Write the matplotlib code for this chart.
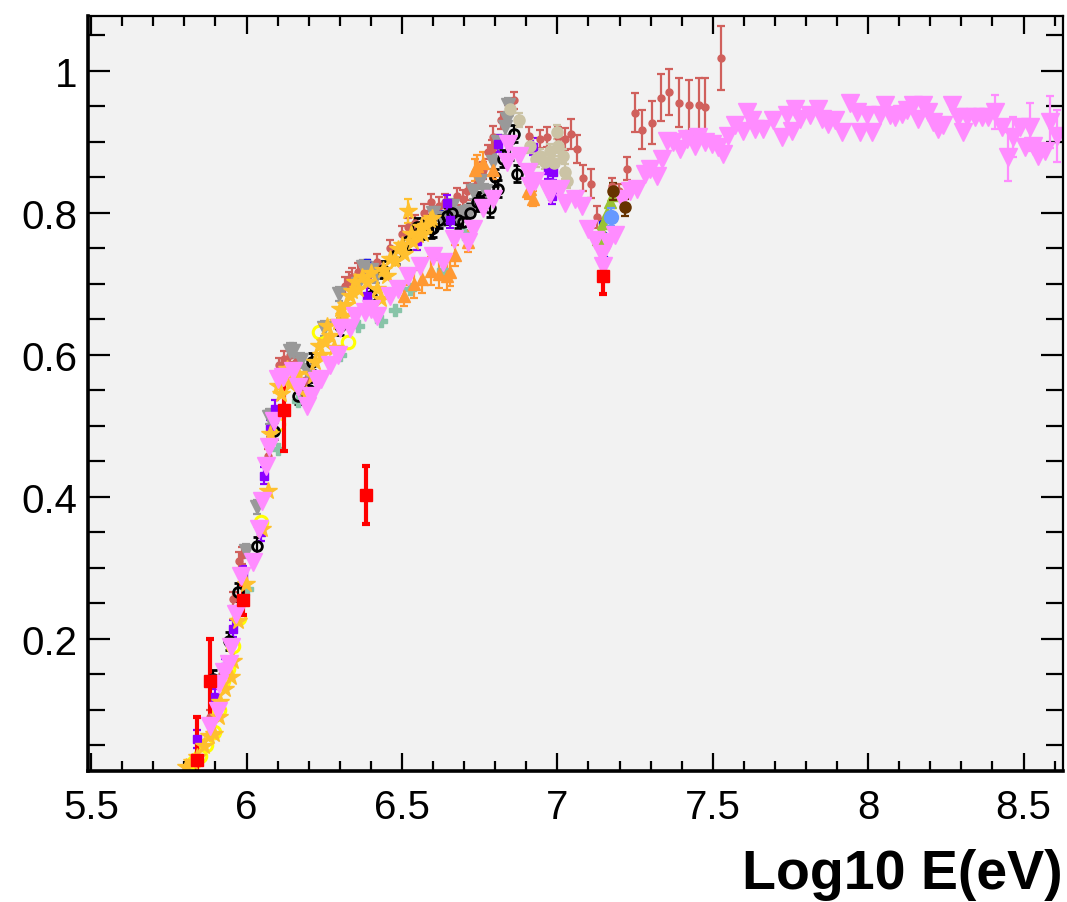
import numpy as np
import matplotlib
matplotlib.use('Agg')
import matplotlib.pyplot as plt
from matplotlib.ticker import MultipleLocator

plt.rcParams['font.family'] = ['Liberation Sans', 'DejaVu Sans']

# ------------------------------------------------------------------ datos
# violet down triangles (largest set, 5.8 - 8.6)
vio_x = [5.884, 5.907, 5.910, 5.926, 5.942, 5.949, 5.965, 5.981, 6.020, 6.039,
         6.051, 6.061, 6.071, 6.087, 6.100, 6.116, 6.151, 6.167, 6.196, 6.206,
         6.228, 6.238, 6.270, 6.293, 6.302, 6.334, 6.350, 6.380, 6.400, 6.421,
         6.463, 6.486, 6.518, 6.559, 6.601, 6.633, 6.666, 6.711, 6.730, 6.762,
         6.794, 6.839, 6.842, 6.875, 6.907, 6.929, 6.913, 6.968, 6.977, 7.010,
         7.026, 7.058, 7.080, 7.100, 7.122, 7.145, 7.148, 7.164, 7.186, 7.209,
         7.235, 7.257, 7.283, 7.299, 7.322, 7.338, 7.354, 7.373, 7.395, 7.418,
         7.444, 7.453, 7.476, 7.498, 7.518, 7.534, 7.550, 7.572, 7.598, 7.611,
         7.627, 7.637, 7.662, 7.695, 7.723, 7.740, 7.756, 7.765, 7.781, 7.814,
         7.839, 7.852, 7.871, 7.894, 7.916, 7.942, 7.965, 7.974, 7.997, 8.013,
         8.039, 8.055, 8.071, 8.087, 8.109, 8.125, 8.145, 8.161, 8.177, 8.193,
         8.209, 8.225, 8.241, 8.270, 8.289, 8.305, 8.318, 8.344, 8.367, 8.386,
         8.408, 8.431, 8.450, 8.466, 8.489, 8.505, 8.521, 8.531, 8.547, 8.569,
         8.585, 8.608]
vio_y = [0.077, 0.099, 0.137, 0.154, 0.165, 0.189, 0.235, 0.289, 0.308, 0.355,
         0.394, 0.444, 0.470, 0.507, 0.566, 0.569, 0.577, 0.555, 0.528, 0.542,
         0.563, 0.566, 0.585, 0.599, 0.637, 0.637, 0.655, 0.660, 0.665, 0.654,
         0.683, 0.693, 0.711, 0.725, 0.739, 0.731, 0.763, 0.759, 0.777, 0.806,
         0.820, 0.872, 0.897, 0.880, 0.858, 0.844, 0.838, 0.834, 0.827, 0.834,
         0.813, 0.820, 0.810, 0.777, 0.761, 0.742, 0.725, 0.759, 0.768, 0.820,
         0.831, 0.834, 0.855, 0.862, 0.852, 0.876, 0.901, 0.900, 0.890, 0.904,
         0.894, 0.907, 0.900, 0.897, 0.893, 0.883, 0.908, 0.923, 0.915, 0.942,
         0.930, 0.918, 0.918, 0.930, 0.907, 0.937, 0.915, 0.946, 0.932, 0.937,
         0.946, 0.932, 0.925, 0.930, 0.914, 0.954, 0.942, 0.914, 0.937, 0.914,
         0.937, 0.951, 0.937, 0.935, 0.939, 0.944, 0.951, 0.932, 0.951, 0.942,
         0.928, 0.918, 0.923, 0.951, 0.935, 0.914, 0.935, 0.935, 0.935, 0.935,
         0.942, 0.921, 0.879, 0.907, 0.921, 0.893, 0.921, 0.894, 0.880, 0.887,
         0.928, 0.908]
vio_err = [0.0] * 120 + [0.024, 0.0, 0.034, 0.028, 0.0, 0.0, 0.034, 0.0, 0.0, 0.0,
                         0.037, 0.037]

# indian red circles with errors
ir_x = [5.884, 5.920, 5.958, 5.975, 5.985, 6.068, 6.105, 6.119, 6.135, 6.140,
        6.160, 6.174, 6.190, 6.318, 6.330, 6.340, 6.360, 6.370, 6.389, 6.400,
        6.420, 6.460, 6.500, 6.520, 6.543, 6.559, 6.570, 6.592, 6.620, 6.640,
        6.678, 6.698, 6.710, 6.740, 6.760, 6.778, 6.791, 6.794, 6.820, 6.840,
        6.859, 6.910, 6.945, 6.968, 7.003, 7.026, 7.045, 7.064, 7.084, 7.109,
        7.129, 7.177, 7.199, 7.225, 7.251, 7.273, 7.305, 7.334, 7.360, 7.392,
        7.424, 7.457, 7.476, 7.527]
ir_y = [0.090, 0.150, 0.256, 0.310, 0.318, 0.458, 0.585, 0.594, 0.585, 0.600,
        0.590, 0.552, 0.565, 0.697, 0.705, 0.710, 0.717, 0.720, 0.721, 0.715,
        0.730, 0.750, 0.770, 0.780, 0.785, 0.775, 0.800, 0.815, 0.810, 0.815,
        0.823, 0.820, 0.830, 0.840, 0.860, 0.886, 0.890, 0.907, 0.930, 0.940,
        0.958, 0.908, 0.904, 0.907, 0.907, 0.904, 0.911, 0.890, 0.849, 0.841,
        0.794, 0.838, 0.831, 0.862, 0.941, 0.917, 0.927, 0.962, 0.970, 0.955,
        0.951, 0.952, 0.949, 1.018]
ir_err = [0.010, 0.010, 0.010, 0.012, 0.012, 0.010, 0.010, 0.012, 0.010, 0.010,
          0.010, 0.010, 0.010, 0.012, 0.012, 0.012, 0.012, 0.012, 0.012, 0.012,
          0.012, 0.012, 0.012, 0.012, 0.012, 0.012, 0.012, 0.012, 0.012, 0.012,
          0.012, 0.012, 0.012, 0.012, 0.012, 0.010, 0.012, 0.015, 0.012, 0.012,
          0.012, 0.012, 0.013, 0.014, 0.014, 0.015, 0.021, 0.020, 0.018, 0.020,
          0.015, 0.011, 0.010, 0.016, 0.028, 0.027, 0.030, 0.033, 0.033, 0.034,
          0.036, 0.038, 0.040, 0.045]

# red squares, large errors
red_x = [5.840, 5.884, 5.987, 6.122, 6.383, 7.148]
red_y = [0.030, 0.140, 0.255, 0.522, 0.403, 0.711]
red_err = [0.060, 0.060, 0.022, 0.058, 0.041, 0.025]

# gray down triangles
gr_x = [5.997, 6.035, 6.071, 6.077, 6.141, 6.148, 6.174, 6.193, 6.248, 6.296,
        6.360, 6.376, 6.400, 6.415, 6.600, 6.630, 6.660, 6.678, 6.700, 6.720,
        6.730, 6.752, 6.768, 6.794, 6.810, 6.830, 6.839, 6.842]
gr_y = [0.324, 0.386, 0.513, 0.513, 0.606, 0.606, 0.592, 0.577, 0.637, 0.686,
        0.700, 0.724, 0.720, 0.711, 0.800, 0.792, 0.810, 0.796, 0.800, 0.803,
        0.830, 0.844, 0.830, 0.872, 0.900, 0.920, 0.932, 0.951]

# black open circles with errors
bk_x = [5.891, 5.942, 5.971, 6.035, 6.087, 6.167, 6.200, 6.212, 6.300, 6.399,
        6.440, 6.480, 6.520, 6.550, 6.560, 6.582, 6.592, 6.601, 6.620, 6.646,
        6.660, 6.680, 6.698, 6.720, 6.740, 6.752, 6.770, 6.784, 6.800, 6.810,
        6.826, 6.849, 6.859, 6.871]
bk_y = [0.144, 0.197, 0.266, 0.331, 0.493, 0.542, 0.550, 0.590, 0.640, 0.683,
        0.720, 0.740, 0.760, 0.780, 0.775, 0.785, 0.777, 0.778, 0.790, 0.796,
        0.800, 0.790, 0.787, 0.800, 0.815, 0.817, 0.820, 0.806, 0.850, 0.834,
        0.876, 0.886, 0.911, 0.855]

# purple squares
pu_x = [5.842, 5.900, 5.932, 5.955, 5.990, 6.045, 6.055, 6.077, 6.093, 6.389,
        6.550, 6.646, 6.656, 6.810, 6.923, 6.971, 6.987, 6.984]
pu_y = [0.059, 0.118, 0.160, 0.214, 0.290, 0.350, 0.430, 0.496, 0.524, 0.683,
        0.760, 0.813, 0.790, 0.897, 0.893, 0.860, 0.858, 0.824]

# orange up triangles with errors
or_x = [6.505, 6.540, 6.566, 6.592, 6.620, 6.646, 6.656, 6.670, 6.711, 6.736,
        6.743, 6.762, 6.794, 6.907, 6.913, 6.923]
or_y = [0.683, 0.700, 0.707, 0.718, 0.714, 0.711, 0.717, 0.740, 0.759, 0.860,
        0.866, 0.870, 0.860, 0.830, 0.834, 0.820]
or_err = [0.015, 0.020, 0.020, 0.020, 0.020, 0.020, 0.020, 0.015, 0.015, 0.015,
          0.015, 0.015, 0.012, 0.010, 0.010, 0.010]

# tan markers
tan_x = [6.849, 6.875, 6.913, 6.930, 6.945, 6.960, 6.977, 6.990, 7.000, 7.003,
         7.019, 7.026, 7.032]
tan_y = [0.946, 0.930, 0.894, 0.875, 0.880, 0.872, 0.887, 0.870, 0.914, 0.894,
         0.880, 0.858, 0.845]

# sea green crosses
sg_x = [6.003, 6.100, 6.167, 6.302, 6.357, 6.431, 6.479, 6.527, 6.633, 6.700]
sg_y = [0.270, 0.468, 0.535, 0.599, 0.641, 0.648, 0.663, 0.692, 0.720, 0.770]

# blue points
bl_x = [6.389, 6.620, 7.140, 7.145, 7.148, 7.150]
bl_y = [0.731, 0.800, 0.750, 0.789, 0.768, 0.735]

# gold stars
st_x = [5.804, 5.826, 5.842, 5.862, 5.878, 5.894, 5.910, 5.916, 5.932, 5.949,
        5.955, 5.971, 5.997, 6.051, 6.068, 6.077, 6.100, 6.110, 6.119, 6.130,
        6.141, 6.167, 6.190, 6.215, 6.220, 6.232, 6.240, 6.254, 6.260, 6.270,
        6.280, 6.293, 6.300, 6.312, 6.320, 6.334, 6.340, 6.350, 6.360, 6.370,
        6.389, 6.400, 6.421, 6.431, 6.440, 6.453, 6.460, 6.479, 6.486, 6.500,
        6.505, 6.530, 6.537, 6.553, 6.560, 6.569, 6.576, 6.590, 6.598, 6.521]
st_y = [0.020, 0.027, 0.034, 0.049, 0.063, 0.066, 0.090, 0.111, 0.130, 0.146,
        0.169, 0.225, 0.277, 0.355, 0.408, 0.489, 0.556, 0.545, 0.573, 0.580,
        0.559, 0.573, 0.545, 0.570, 0.590, 0.613, 0.600, 0.618, 0.640, 0.627,
        0.610, 0.646, 0.665, 0.655, 0.670, 0.683, 0.690, 0.703, 0.693, 0.710,
        0.703, 0.715, 0.693, 0.679, 0.720, 0.711, 0.735, 0.732, 0.749, 0.755,
        0.742, 0.770, 0.759, 0.768, 0.780, 0.770, 0.782, 0.790, 0.792, 0.803]
st_err = [0.0] * 59 + [0.017]

# yellow open circles
yc_x = [5.830, 5.850, 5.870, 5.894, 5.910, 5.925, 5.940, 5.955, 5.975, 6.045,
        6.100, 6.232, 6.325]
yc_y = [0.027, 0.035, 0.050, 0.069, 0.100, 0.140, 0.158, 0.190, 0.230, 0.365,
        0.503, 0.632, 0.618]

# yellow green, cornflower and brown near 7.15
yg_x = [7.132, 7.140, 7.148, 7.161, 7.170, 7.180]
yg_y = [0.763, 0.775, 0.786, 0.800, 0.815, 0.825]
cf_x = [7.174]
cf_y = [0.794]
br_x = [7.219, 7.180]
br_y = [0.808, 0.830]

# ------------------------------------------------------------------ figura
fig = plt.figure(figsize=(10.67, 9.03), dpi=100)
ax = fig.add_axes([0.0825, 0.1451, 0.9138, 0.8361])
ax.set_facecolor('#f2f2f2')

cap = dict(capsize=3, elinewidth=1.6, capthick=1.6, linestyle='none')

ax.errorbar(ir_x, ir_y, yerr=ir_err, fmt='o', color='#d0605c', ms=5, **cap)
ax.errorbar(gr_x, gr_y, yerr=0.01, fmt='v', color='#999999', ms=10, **cap)
ax.errorbar(bk_x, bk_y, yerr=0.012, fmt='o', color='black', mfc='none', mew=2,
            ms=7, **cap)
ax.errorbar(pu_x, pu_y, yerr=0.012, fmt='s', color='#8b00ff', ms=6, **cap)
ax.errorbar(or_x, or_y, yerr=or_err, fmt='^', color='#ff9933', ms=9, **cap)
ax.errorbar(tan_x, tan_y, yerr=0.01, fmt='o', color='#cbc3a5', ms=8, **cap)
ax.plot(sg_x, sg_y, 'P', color='#88c4a8', ms=9, linestyle='none')
ax.plot(bl_x, bl_y, 's', color='#0000ff', ms=4, linestyle='none')
ax.errorbar(st_x, st_y, yerr=st_err, fmt='*', color='#ffc02e', ms=13, **cap)
ax.plot(yc_x, yc_y, 'o', color='#ffff00', mfc='none', mew=2.2, ms=9,
        linestyle='none')
ax.errorbar(vio_x, vio_y, yerr=vio_err, fmt='v', color='#ff8cff', ms=13,
            **cap)
ax.errorbar(red_x, red_y, yerr=red_err, fmt='s', color='#ff0000', ms=8,
            capsize=3, elinewidth=3, capthick=3, linestyle='none')
ax.plot(yg_x, yg_y, '^', color='#99c234', ms=8, linestyle='none')
ax.errorbar(cf_x, cf_y, yerr=0.012, fmt='o', color='#6699ff', ms=10, **cap)
ax.errorbar(br_x, br_y, yerr=0.012, fmt='o', color='#663300', ms=8, **cap)

# ------------------------------------------------------------------ ejes
ax.set_xlim(5.49, 8.627)
ax.set_ylim(0.014, 1.077)
ax.xaxis.set_minor_locator(MultipleLocator(0.1))
ax.yaxis.set_minor_locator(MultipleLocator(0.05))
ax.set_xticks([5.5, 6, 6.5, 7, 7.5, 8, 8.5])
ax.set_xticklabels(['5.5', '6', '6.5', '7', '7.5', '8', '8.5'])
ax.set_yticks([0.2, 0.4, 0.6, 0.8, 1.0])
ax.set_yticklabels(['0.2', '0.4', '0.6', '0.8', '1'])

ax.tick_params(which='both', direction='in', top=True, right=True,
               width=1.6, labelsize=29)
ax.tick_params(axis='x', which='major', length=13, pad=12)
ax.tick_params(axis='x', which='minor', length=7)
ax.tick_params(axis='y', which='major', length=16, pad=8)
ax.tick_params(axis='y', which='minor', length=12)

for lado in ['bottom', 'left']:
    ax.spines[lado].set_linewidth(2.6)
for lado in ['top', 'right']:
    ax.spines[lado].set_linewidth(1.6)

fig.text(0.996, 0.031, 'Log10 E(eV)', ha='right', va='center',
         fontsize=40, fontweight='bold')

fig.savefig('out.png', dpi=100)
